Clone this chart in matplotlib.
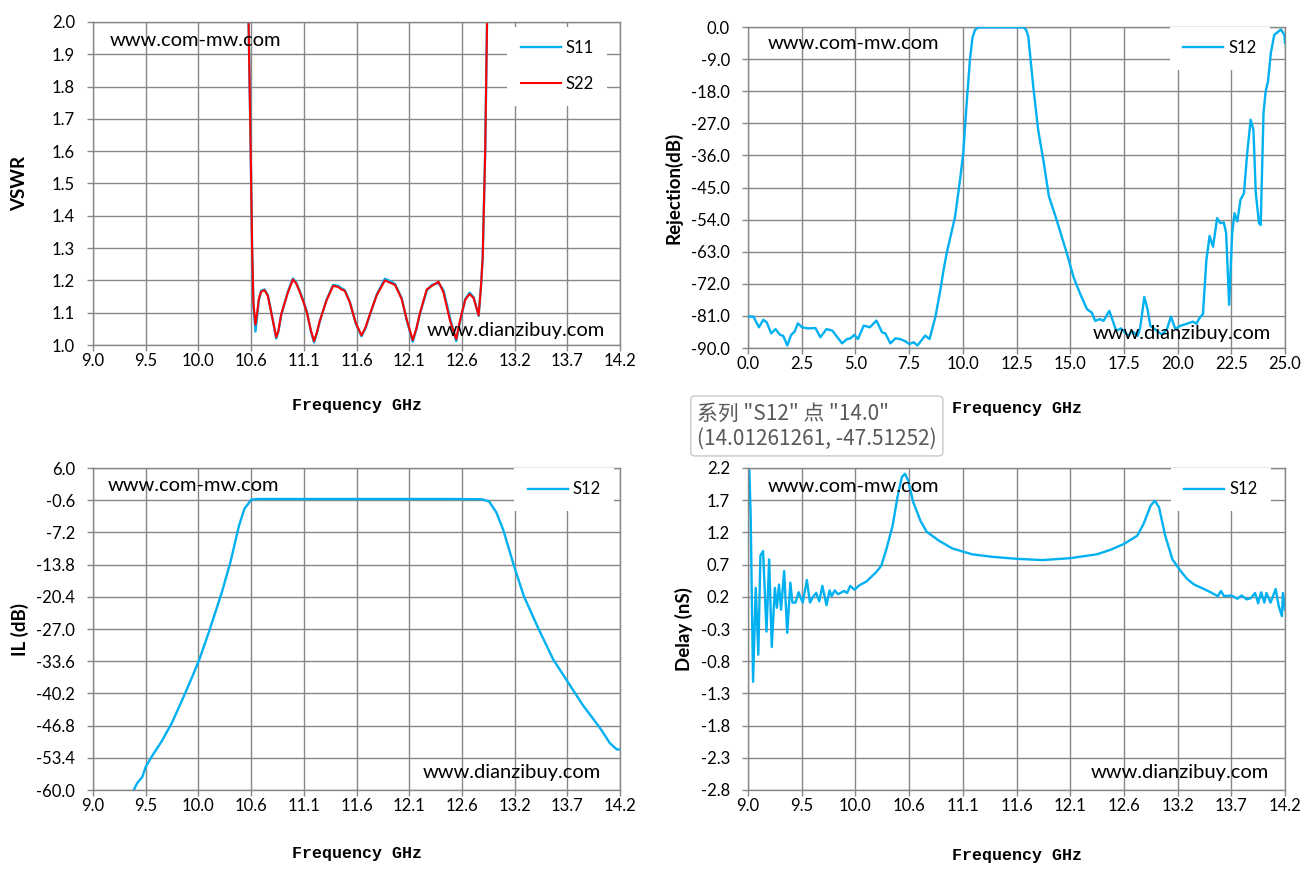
import numpy as np
import matplotlib.pyplot as plt

# ---- VSWR (top left) ----
vswr_freq = [10.52, 10.535, 10.555, 10.570, 10.583, 10.603, 10.620, 10.636, 10.659, 10.692,
             10.725, 10.768, 10.808, 10.830, 10.857, 10.923, 10.973, 11.006, 11.039, 11.075,
             11.111, 11.150, 11.181, 11.210, 11.237, 11.303, 11.369, 11.418, 11.451, 11.484,
             11.534, 11.593, 11.649, 11.690, 11.732, 11.798, 11.880, 11.930, 11.980, 12.046,
             12.095, 12.155, 12.190, 12.227, 12.293, 12.343, 12.409, 12.458, 12.524, 12.584,
             12.610, 12.640, 12.673, 12.716, 12.756, 12.805, 12.828, 12.845, 12.870, 12.888, 12.91]
vswr_s22 = [2.3, 2.0, 1.62, 1.30, 1.13, 1.063, 1.10, 1.142, 1.165, 1.170,
            1.152, 1.086, 1.024, 1.045, 1.095, 1.163, 1.203, 1.190, 1.165, 1.135,
            1.100, 1.045, 1.012, 1.040, 1.074, 1.137, 1.183, 1.180, 1.172, 1.168,
            1.132, 1.068, 1.030, 1.055, 1.095, 1.153, 1.200, 1.193, 1.186, 1.142,
            1.079, 1.015, 1.050, 1.100, 1.172, 1.183, 1.196, 1.163, 1.074, 1.018,
            1.060, 1.100, 1.140, 1.158, 1.145, 1.092, 1.180, 1.27, 1.60, 2.00, 2.40]
vswr_s11 = [2.3, 2.0, 1.62, 1.30, 1.12, 1.042, 1.09, 1.138, 1.168, 1.172,
            1.155, 1.088, 1.020, 1.043, 1.093, 1.165, 1.206, 1.192, 1.168, 1.137,
            1.102, 1.042, 1.008, 1.038, 1.072, 1.139, 1.186, 1.183, 1.176, 1.170,
            1.134, 1.066, 1.027, 1.053, 1.093, 1.155, 1.205, 1.198, 1.189, 1.145,
            1.077, 1.010, 1.048, 1.098, 1.168, 1.186, 1.192, 1.170, 1.082, 1.012,
            1.055, 1.098, 1.142, 1.162, 1.148, 1.090, 1.180, 1.27, 1.60, 2.00, 2.40]

# ---- Rejection (top right) ----
rej_freq = [0.0, 0.25, 0.51, 0.71, 0.87, 1.08, 1.28, 1.49, 1.64, 1.83, 2.01, 2.17, 2.32, 2.52,
            2.79, 3.14, 3.37, 3.65, 3.92, 4.38, 4.61, 4.77, 4.95, 5.12, 5.39, 5.67, 5.98, 6.24,
            6.39, 6.63, 6.86, 7.09, 7.32, 7.51, 7.71, 7.89, 8.25, 8.45, 8.72, 8.95, 9.10, 9.25,
            9.64, 9.87, 10.02, 10.18, 10.33, 10.45, 10.57, 10.72, 12.82, 12.95, 13.05, 13.28,
            13.51, 13.75, 14.01, 14.37, 14.84, 15.16, 15.47, 15.78, 16.01, 16.16, 16.37, 16.55,
            16.82, 16.99, 17.14, 17.36, 17.56, 17.72, 17.87, 18.14, 18.26, 18.45, 18.60, 18.73,
            18.96, 19.27, 19.50, 19.69, 19.89, 20.12, 20.43, 20.71, 20.87, 21.02, 21.18, 21.34,
            21.49, 21.65, 21.84, 21.99, 22.15, 22.26, 22.40, 22.54, 22.65, 22.78, 22.93, 23.09,
            23.24, 23.40, 23.53, 23.64, 23.79, 23.87, 24.00, 24.10, 24.21, 24.34, 24.50, 24.81,
            24.97, 25.0]
rej_s12 = [-81.2, -81.2, -84.2, -82.1, -82.8, -85.9, -84.7, -86.3, -86.6, -89.3, -86.3, -85.4, -83.1, -84.2,
           -84.5, -84.4, -87.0, -84.7, -85.1, -88.7, -87.5, -87.3, -86.3, -87.5, -83.7, -84.2, -82.3, -85.6,
           -85.9, -88.7, -87.3, -87.5, -88.1, -88.9, -88.4, -89.3, -86.5, -87.5, -81.4, -73.9, -68.3, -63.4,
           -53.2, -42.9, -35.4, -21.4, -9.3, -3.0, -0.8, -0.1, -0.1, -0.8, -2.7, -16.7,
           -28.9, -37.3, -47.5, -54.1, -63.4, -70.2, -74.9, -79.1, -80.1, -82.4, -81.9, -82.4,
           -79.6, -82.5, -85.2, -84.5, -85.7, -86.6, -85.2, -86.6, -84.3, -75.7, -79.1, -83.8,
           -84.8, -86.2, -84.8, -81.2, -84.6, -83.8, -83.2, -82.6, -83.2, -81.6, -80.5, -65.3,
           -58.6, -61.6, -53.6, -55.0, -54.8, -57.8, -77.9, -57.8, -52.2, -54.5, -48.4, -46.6,
           -35.4, -26.0, -28.8, -46.6, -55.0, -55.5, -24.1, -18.0, -15.2, -7.3, -2.2, -0.7,
           -2.2, -4.5]

# ---- Insertion loss (bottom left) ----
il_freq = [9.402, 9.436, 9.487, 9.521, 9.590, 9.675, 9.777, 9.896, 9.981, 10.05, 10.152,
           10.271, 10.356, 10.441, 10.493, 10.561, 10.629, 11.5, 12.5, 12.84, 12.91, 12.98,
           13.05, 13.15, 13.25, 13.39, 13.54, 13.68, 13.83, 14.01, 14.10, 14.17, 14.2]
il_s12 = [-60.0, -58.6, -57.3, -55.2, -52.8, -50.1, -46.3, -40.8, -36.7, -33.2, -27.1,
          -19.5, -13.3, -5.8, -2.4, -0.5, -0.35, -0.35, -0.35, -0.4, -0.9, -3.1,
          -6.8, -13.8, -20.2, -26.7, -33.2, -37.7, -42.5, -47.5, -50.4, -51.7, -51.7]

# ---- Group delay (bottom right) ----
dly_freq = [9.01, 9.026, 9.049, 9.075, 9.10, 9.12, 9.146, 9.179, 9.205, 9.23, 9.26, 9.28, 9.30,
            9.32, 9.35, 9.38, 9.41, 9.43, 9.46, 9.49, 9.53, 9.57, 9.60, 9.63, 9.66, 9.69, 9.72,
            9.76, 9.79, 9.81, 9.84, 9.87, 9.93, 9.96, 9.99, 10.03, 10.08, 10.15, 10.20, 10.24,
            10.29, 10.34, 10.40, 10.45, 10.49, 10.52, 10.55, 10.60, 10.67, 10.73, 10.85, 10.98,
            11.17, 11.37, 11.6, 11.85, 12.12, 12.38, 12.51, 12.64, 12.77, 12.83, 12.90, 12.94,
            12.98, 13.04, 13.11, 13.19, 13.25, 13.32, 13.39, 13.48, 13.55, 13.58, 13.61, 13.68,
            13.74, 13.78, 13.83, 13.87, 13.91, 13.94, 13.97, 14.0, 14.02, 14.06, 14.11, 14.14,
            14.17, 14.18, 14.2]
dly_s12 = [2.35, 1.43, -1.12, 0.34, -0.70, 0.84, 0.91, -0.34, 0.78, -0.58, 0.34, 0.03, 0.39,
           0.00, 0.60, -0.36, 0.42, 0.11, 0.11, 0.27, 0.11, 0.46, 0.11, 0.20, 0.26, 0.13, 0.37,
           0.07, 0.30, 0.21, 0.30, 0.24, 0.29, 0.26, 0.37, 0.31, 0.38, 0.44, 0.52, 0.58,
           0.68, 0.94, 1.30, 1.77, 2.06, 2.11, 2.01, 1.67, 1.38, 1.21, 1.07, 0.95,
           0.86, 0.82, 0.79, 0.77, 0.80, 0.86, 0.93, 1.02, 1.15, 1.33, 1.62, 1.69,
           1.59, 1.15, 0.78, 0.60, 0.48, 0.39, 0.34, 0.27, 0.21, 0.29, 0.21, 0.22,
           0.17, 0.22, 0.16, 0.18, 0.26, 0.10, 0.27, 0.11, 0.26, 0.11, 0.32, 0.05,
           -0.10, 0.26, 0.00]

BLUE = '#00B0F0'
RED = '#FF0000'
GRID = '#878787'

plt.rcParams['font.family'] = ['Lato', 'DejaVu Sans']

fig = plt.figure(figsize=(13.14, 8.8), dpi=100)
W, H = 1314.0, 880.0


def make_ax(l, r, t, b):
    return fig.add_axes([l / W, 1 - b / H, (r - l) / W, (b - t) / H])


def style(ax, xticks, xlabels, yticks, ylabels, ylab, ylab_x, xlab_y):
    ax.set_xlim(xticks[0], xticks[-1])
    ax.set_ylim(min(yticks), max(yticks))
    ax.set_xticks(xticks)
    ax.set_xticklabels(xlabels)
    ax.set_yticks(yticks)
    ax.set_yticklabels(ylabels)
    ax.grid(True, color=GRID, lw=1.0)
    ax.set_axisbelow(True)
    for s in ax.spines.values():
        s.set_color(GRID)
        s.set_linewidth(1.0)
    ax.tick_params(axis='both', color=GRID, length=4, width=1.0, labelsize=12)
    ax.tick_params(axis='x', pad=2)
    ax.tick_params(axis='y', pad=9)
    ax.set_ylabel(ylab, fontsize=13.5, fontweight='bold', va='center')
    ax.yaxis.set_label_coords(ylab_x, 0.5)
    ax.set_xlabel('Frequency GHz', fontsize=12, fontweight='bold', family='Liberation Mono', va='center')
    ax.xaxis.set_label_coords(0.5, xlab_y)


def marks(ax, top, bottom):
    ax.text(top[0], top[1], 'www.com-mw.com', transform=ax.transAxes, fontsize=14.5,
            ha='left', va='center', zorder=8)
    ax.text(bottom[0], bottom[1], 'www.dianzibuy.com', transform=ax.transAxes, fontsize=14.5,
            ha='left', va='center', zorder=8)


def legend(ax, right, spacing=0.5, top=1.0):
    lg = ax.legend(loc='upper right', bbox_to_anchor=(right, top), fontsize=12, frameon=True,
                   fancybox=False, edgecolor='none', facecolor='white', framealpha=1,
                   handlelength=2.4, handletextpad=0.3, labelspacing=spacing,
                   borderaxespad=0, borderpad=0.8)
    lg.set_zorder(6)


f_ticks = np.linspace(9.0, 14.2, 11)
f_labels = ['%.1f' % v for v in f_ticks]

# top left: VSWR
ax1 = make_ax(93, 620, 22, 345)
ax1.plot(vswr_freq, vswr_s11, color=BLUE, lw=1.7, label='S11')
ax1.plot(vswr_freq, vswr_s22, color=RED, lw=1.5, label='S22')
yt = np.linspace(2.0, 1.0, 11)
style(ax1, f_ticks, f_labels, yt, ['%.1f' % v for v in yt], 'VSWR', -0.1385, -0.186)
marks(ax1, (0.032, 0.944), (0.634, 0.046))
legend(ax1, 0.976, spacing=1.2, top=0.985)

# top right: rejection (curve stays visible over the legend box)
ax2 = make_ax(748, 1285, 27, 348)
ax2.plot(rej_freq, rej_s12, color=BLUE, lw=1.7, label='S12', zorder=7)
xt = np.linspace(0, 25, 11)
yt = np.linspace(0, -90, 11)
style(ax2, xt, ['%.1f' % v for v in xt], yt, ['%.1f' % v for v in yt], 'Rejection(dB)', -0.1397, -0.187)
marks(ax2, (0.037, 0.950), (0.641, 0.044))
legend(ax2, 0.972)

# bottom left: insertion loss
ax3 = make_ax(93, 620, 468, 790)
ax3.plot(il_freq, il_s12, color=BLUE, lw=1.7, label='S12')
yt = np.linspace(6.0, -60.0, 11)
style(ax3, f_ticks, f_labels, yt, ['%.1f' % v for v in yt], 'IL (dB)', -0.1385, -0.196)
marks(ax3, (0.028, 0.947), (0.626, 0.053))
legend(ax3, 0.989)

# bottom right: delay
ax4 = make_ax(748, 1285, 468, 790)
ax4.plot(dly_freq, dly_s12, color=BLUE, lw=1.7, label='S12')
yt = np.linspace(2.2, -2.8, 11)
style(ax4, f_ticks, f_labels, yt, ['%.1f' % v for v in yt], 'Delay (nS)', -0.119, -0.202)
marks(ax4, (0.037, 0.944), (0.639, 0.053))
legend(ax4, 0.974)

# hover tooltip captured in the screenshot
fig.text(697 / W, 1 - 426 / H, '系列 "S12" 点 "14.0"\n(14.01261261, -47.51252)',
         family=['Noto Sans CJK SC', 'DejaVu Sans'], fontsize=15, color='#595959',
         ha='left', va='center', linespacing=1.2, zorder=10,
         bbox=dict(boxstyle='round,pad=0.3,rounding_size=0.2', facecolor='white',
                   edgecolor='#c8c8c8', lw=1))

fig.savefig('out.png', dpi=100)
